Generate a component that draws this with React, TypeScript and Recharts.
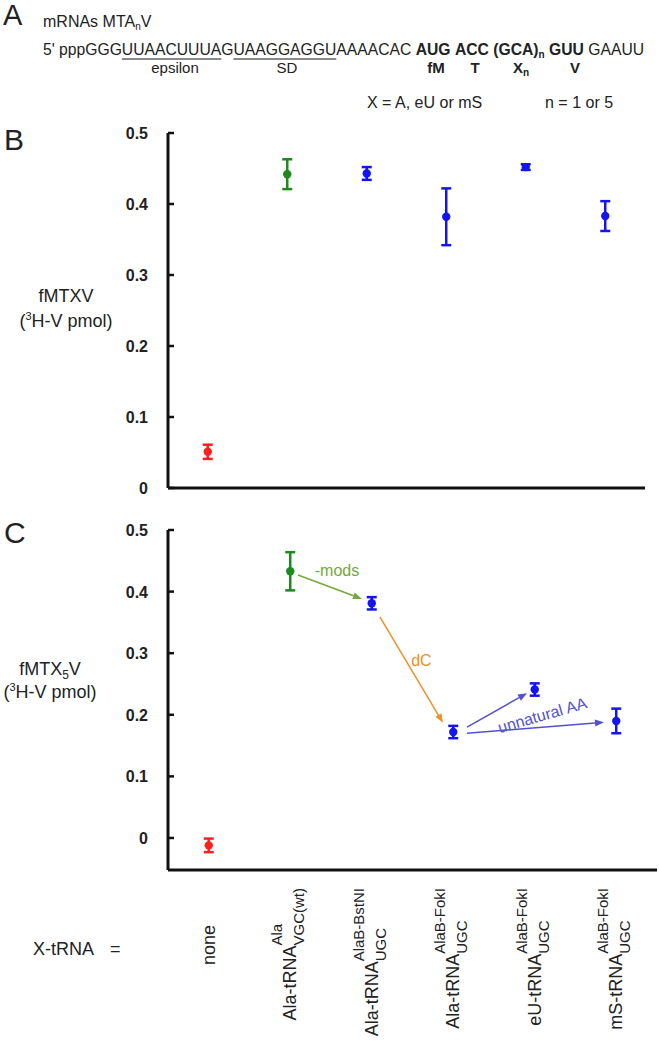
import React from "react";
import {
  ErrorBar,
  ReferenceLine,
  Scatter,
  ScatterChart,
  XAxis,
  YAxis,
} from "recharts";

// x-tRNA categories (tick labels are split into main / superscript / subscript)
const categories = ["none", "Ala-tRNA", "Ala-tRNA", "Ala-tRNA", "eU-tRNA", "mS-tRNA"];
const labelSup = ["", "Ala", "AlaB-BstNI", "AlaB-FokI", "AlaB-FokI", "AlaB-FokI"];
const labelSub = ["", "VGC(wt)", "UGC", "UGC", "UGC", "UGC"];
const pointColours = ["#ff1f1f", "#1c8a1c", "#1414f0", "#1414f0", "#1414f0", "#1414f0"];

// panel B: fMTXV (3H-V pmol)
const fmtxvMean = [0.051, 0.442, 0.443, 0.382, 0.452, 0.383];
const fmtxvErr = [0.01, 0.021, 0.009, 0.04, 0.004, 0.021];

// panel C: fMTX5V (3H-V pmol)
const fmtx5vMean = [-0.012, 0.433, 0.381, 0.172, 0.241, 0.19];
const fmtx5vErr = [0.011, 0.031, 0.01, 0.01, 0.01, 0.02];

const yTicks = [0, 0.1, 0.2, 0.3, 0.4, 0.5];
const xTicks = categories.map((_, i) => i);

// annotation arrows in panel C, in data units (category index, pmol)
const arrows = [
  { from: [1.095, 0.427], to: [1.88, 0.388], colour: "#74a83a", label: "-mods", dx: 7, dy: -16, angle: 0 },
  { from: [2.1, 0.359], to: [2.874, 0.187], colour: "#f0902a", label: "dC", dx: 10, dy: -9, angle: 0 },
  { from: [3.169, 0.18], to: [3.905, 0.235], colour: "#5252d0", label: "", dx: 0, dy: 0, angle: 0 },
  { from: [3.169, 0.17], to: [4.85, 0.188], colour: "#5252d0", label: "unnatural AA", dx: 7, dy: -12, angle: -16 },
];

// mRNA sequence pieces for panel A
const seqParts = [
  { text: "5' pppGGG" },
  { text: "UUAACUUUA", underline: true },
  { text: "G" },
  { text: "UAAGGAGGU", underline: true },
  { text: "AAAACAC " },
  { text: "AUG", bold: true },
  { text: " " },
  { text: "ACC", bold: true },
  { text: " " },
  { text: "(GCA)", bold: true, sub: "n" },
  { text: " " },
  { text: "GUU", bold: true },
  { text: " GAAUU" },
];

const FONT = '"Liberation Sans", Arial, sans-serif';
const INK = "#222";
const MAIN = 18;
const SMALL = 15;

let ctx: CanvasRenderingContext2D | null = null;
function textWidth(s: string, size: number) {
  if (!ctx) ctx = document.createElement("canvas").getContext("2d");
  if (!ctx) return s.length * size * 0.6;
  ctx.font = `${size}px "Liberation Sans"`;
  return ctx.measureText(s).width;
}

function YTick({ x, y, payload }: any) {
  return (
    <g>
      <line x1={x} x2={x + 6} y1={y} y2={y} stroke="#111" strokeWidth={2.5} />
      <text x={x - 20} y={y + 6} textAnchor="end" fontSize={16} fontWeight={700} fill={INK} fontFamily={FONT}>
        {payload.value}
      </text>
    </g>
  );
}

function XTick({ x, y, payload }: any) {
  const i = payload.value as number;
  const main = categories[i];
  const sup = labelSup[i];
  const sub = labelSub[i];
  const top = y + 18;
  if (!sup && !sub) {
    return (
      <g transform={`translate(${x},${top + 57}) rotate(-90)`}>
        <text x={0} y={6} textAnchor="middle" fontSize={MAIN} fill={INK} fontFamily={FONT}>
          {main}
        </text>
      </g>
    );
  }
  const s = Math.max(textWidth(sup, SMALL), textWidth(sub, SMALL));
  return (
    <g transform={`translate(${x},${top}) rotate(-90)`} fontFamily={FONT} fill={INK}>
      <text x={-s} y={6} textAnchor="end" fontSize={MAIN}>
        {main}
      </text>
      <text x={-s} y={-8} textAnchor="start" fontSize={SMALL}>
        {sup}
      </text>
      <text x={-s} y={14} textAnchor="start" fontSize={SMALL}>
        {sub}
      </text>
    </g>
  );
}

function ArrowShape(props: any) {
  const { x1, y1, x2, y2, spec } = props;
  const ang = Math.atan2(y2 - y1, x2 - x1);
  const head = 9;
  const half = 3.5;
  const bx = x2 - head * Math.cos(ang);
  const by = y2 - head * Math.sin(ang);
  const px = -Math.sin(ang) * half;
  const py = Math.cos(ang) * half;
  const mx = (x1 + x2) / 2 + spec.dx;
  const my = (y1 + y2) / 2 + spec.dy;
  return (
    <g>
      <line x1={x1} y1={y1} x2={bx} y2={by} stroke={spec.colour} strokeWidth={1.5} />
      <polygon points={`${x2},${y2} ${bx + px},${by + py} ${bx - px},${by - py}`} fill={spec.colour} />
      {spec.label && (
        <text
          transform={`translate(${mx},${my}) rotate(${spec.angle})`}
          y={5}
          textAnchor="middle"
          fontSize={16}
          fill={spec.colour}
          fontFamily={FONT}
        >
          {spec.label}
        </text>
      )}
    </g>
  );
}

function points(means: number[], errs: number[]) {
  return means.map((m, i) => (
    <Scatter
      key={i}
      data={[{ x: i, y: m, err: errs[i] }]}
      fill={pointColours[i]}
      isAnimationActive={false}
      shape={(p: any) => <circle cx={p.cx} cy={p.cy} r={4.2} fill={pointColours[i]} />}
    >
      <ErrorBar dataKey="err" direction="y" width={5} strokeWidth={2.5} stroke={pointColours[i]} />
    </Scatter>
  ));
}

const axisLine = { stroke: "#111", strokeWidth: 3 };

function PanelB() {
  return (
    <ScatterChart width={659} height={400} margin={{ top: 33, right: 14, bottom: 2, left: 118 }}>
      <XAxis
        type="number"
        dataKey="x"
        domain={[-0.5, 5.5]}
        ticks={xTicks}
        allowDataOverflow
        tick={false}
        tickLine={false}
        height={10}
        axisLine={axisLine}
      />
      <YAxis
        type="number"
        dataKey="y"
        domain={[0, 0.5]}
        ticks={yTicks}
        allowDataOverflow
        width={50}
        tickSize={0}
        tickMargin={0}
        tickLine={false}
        tick={<YTick />}
        axisLine={axisLine}
      />
      {points(fmtxvMean, fmtxvErr)}
    </ScatterChart>
  );
}

function PanelC() {
  return (
    <ScatterChart width={659} height={548} margin={{ top: 30, right: 2, bottom: 0, left: 118 }}>
      <XAxis
        type="number"
        dataKey="x"
        domain={[-0.5, 5.5]}
        ticks={xTicks}
        allowDataOverflow
        interval={0}
        tickSize={0}
        tickMargin={0}
        tickLine={false}
        tick={<XTick />}
        height={178}
        axisLine={axisLine}
      />
      <YAxis
        type="number"
        dataKey="y"
        domain={[-0.052, 0.5]}
        ticks={yTicks}
        allowDataOverflow
        width={50}
        tickSize={0}
        tickMargin={0}
        tickLine={false}
        tick={<YTick />}
        axisLine={axisLine}
      />
      {arrows.map((a, k) => (
        <ReferenceLine
          key={k}
          segment={[
            { x: a.from[0], y: a.from[1] },
            { x: a.to[0], y: a.to[1] },
          ]}
          stroke={a.colour}
          shape={(p: any) => <ArrowShape {...p} spec={a} />}
        />
      ))}
      {points(fmtx5vMean, fmtx5vErr)}
    </ScatterChart>
  );
}

export default function App() {
  return (
    <div
      style={{
        position: "absolute",
        left: 0,
        top: 0,
        width: 659,
        height: 1048,
        background: "#fff",
        fontFamily: FONT,
        color: INK,
      }}
    >
      <div style={{ position: "absolute", left: 0, top: 100 }}>
        <PanelB />
      </div>
      <div style={{ position: "absolute", left: 0, top: 500 }}>
        <PanelC />
      </div>

      {/* panel A sequence */}
      <div
        style={{
          position: "absolute",
          left: 43,
          top: 42,
          fontSize: 15.7,
          lineHeight: "15px",
          whiteSpace: "pre",
        }}
      >
        {seqParts.map((p, i) => (
          <span
            key={i}
            style={{
              fontWeight: p.bold ? 700 : 400,
              textDecoration: p.underline ? "underline" : "none",
              textDecorationColor: "#8a8a8a",
              textDecorationThickness: "2px",
              textUnderlineOffset: "3px",
            }}
          >
            {p.text}
            {p.sub && <span style={{ fontSize: 10, verticalAlign: -3 }}>{p.sub}</span>}
          </span>
        ))}
      </div>

      <svg
        width={659}
        height={1048}
        style={{ position: "absolute", left: 0, top: 0, pointerEvents: "none" }}
        fontFamily={FONT}
        fill={INK}
      >
        <text x={3} y={25} fontSize={29}>A</text>
        <text x={43} y={27} fontSize={16}>
          mRNAs MTA
          <tspan fontSize={10} dy={3}>n</tspan>
          <tspan dy={-3}>V</tspan>
        </text>
        <text x={175} y={73} fontSize={15} textAnchor="middle">epsilon</text>
        <text x={287} y={73} fontSize={15} textAnchor="middle">SD</text>
        <text x={436} y={73} fontSize={15} fontWeight={700} textAnchor="middle">fM</text>
        <text x={475} y={73} fontSize={15} fontWeight={700} textAnchor="middle">T</text>
        <text x={521} y={73} fontSize={15} fontWeight={700} textAnchor="middle">
          X<tspan fontSize={10} dy={3}>n</tspan>
        </text>
        <text x={575} y={73} fontSize={15} fontWeight={700} textAnchor="middle">V</text>
        <text x={367} y={108} fontSize={16}>X = A, eU or mS</text>
        <text x={545} y={108} fontSize={16}>n = 1 or 5</text>

        <text x={4} y={150} fontSize={30}>B</text>
        <text x={66} y={302} fontSize={18} textAnchor="middle">fMTXV</text>
        <text x={66} y={327} fontSize={18} textAnchor="middle">
          (<tspan fontSize={11} dy={-7}>3</tspan>
          <tspan dy={7}>H-V pmol)</tspan>
        </text>

        <text x={4} y={543} fontSize={30}>C</text>
        <text x={50} y={675} fontSize={18} textAnchor="middle">
          fMTX<tspan fontSize={12} dy={4}>5</tspan>
          <tspan dy={-4}>V</tspan>
        </text>
        <text x={50} y={698} fontSize={18} textAnchor="middle">
          (<tspan fontSize={11} dy={-7}>3</tspan>
          <tspan dy={7}>H-V pmol)</tspan>
        </text>

        <text x={33} y={955} fontSize={18}>X-tRNA</text>
        <text x={110} y={955} fontSize={18}>=</text>
      </svg>
    </div>
  );
}
